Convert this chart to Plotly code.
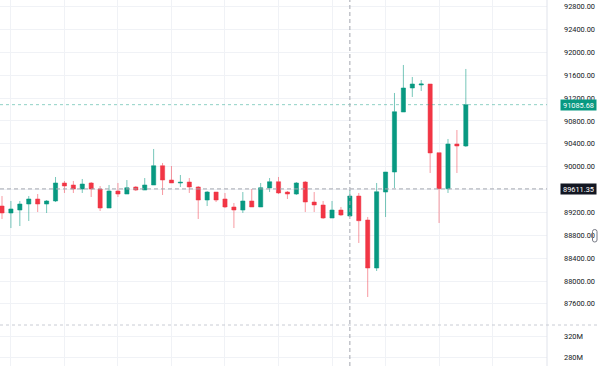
import plotly.graph_objects as go

# ---- data ----
idx = list(range(53))
opens = [89312, 89190, 89242, 89347, 89435, 89347, 89400, 89715, 89680, 89610,
         89715, 89610, 89277, 89575, 89522, 89645, 89592, 89680, 90017, 89767,
         89715, 89732, 89645, 89417, 89557, 89435, 89295, 89242, 89400, 89295,
         89627, 89737, 89557, 89522, 89732, 89382, 89330, 89102, 89242, 89137,
         89487, 89067, 88227, 89557, 89907, 90957, 91377, 91430, 91447, 90245,
         89615, 90397, 90362]
highs = [89487, 89400, 89400, 89487, 89522, 89417, 89820, 89750, 89750, 89785,
         89732, 89662, 89680, 89715, 89767, 89662, 89802, 90310, 90065, 90012,
         89855, 89802, 89662, 89575, 89557, 89540, 89365, 89557, 89610, 89715,
         89802, 89820, 89575, 89732, 89750, 89557, 89400, 89400, 89295, 89592,
         89540, 89120, 89715, 89907, 91290, 91780, 91570, 91517, 91447, 90245,
         90485, 90642, 91710]
lows = [89085, 88927, 88962, 89050, 89207, 89190, 89382, 89540, 89540, 89540,
        89470, 89225, 89277, 89470, 89522, 89575, 89592, 89680, 89505, 89715,
        89645, 89540, 89085, 89312, 89382, 89277, 88927, 89190, 89295, 89295,
        89557, 89522, 89435, 89505, 89207, 89207, 89085, 89102, 89137, 89120,
        88665, 87720, 88175, 89120, 89627, 90957, 91220, 91325, 89890, 89015,
        89540, 89890, 90345]
closes = [89190, 89260, 89347, 89435, 89347, 89400, 89715, 89662, 89610, 89697,
          89610, 89277, 89575, 89522, 89632, 89592, 89680, 90017, 89767, 89715,
          89727, 89645, 89417, 89557, 89417, 89295, 89242, 89400, 89295, 89632,
          89737, 89540, 89522, 89715, 89382, 89330, 89102, 89242, 89155, 89487,
          89055, 88227, 89562, 89907, 90962, 91377, 91447, 91447, 90240, 89615,
          90397, 90362, 91085.68]

price_ticks = [87600, 88000, 88400, 88800, 89200, 89600, 90000, 90400,
               90800, 91200, 91600, 92000, 92400, 92800]
price_labels = ["87600.00", "88000.00", "88400.00", "88800.00", "89200.00", "",
                "90000.00", "90400.00", "90800.00", "91200.00", "91600.00",
                "92000.00", "92400.00", "92800.00"]
vol_ticks = [280e6, 320e6]
vol_labels = ["280M", "320M"]
grid_x = [1, 7, 13, 19, 25, 31, 37, 43, 49, 55]
last_price = 91085.68
cross_price = 89611.35
cross_index = 39

# ---- layout geometry ----
W, H = 600, 366
plot_right = 547 / W
pane_split = 41 / H

GREEN = "#089981"
RED = "#F23645"
GRID = "#f0f2f6"
TXT = "#131722"
FONT = "Roboto"
CROSS = "#a3a6af"

fig = go.Figure()
fig.add_trace(go.Candlestick(
    x=idx, open=opens, high=highs, low=lows, close=closes,
    increasing=dict(line=dict(color="rgba(8,153,129,0.55)", width=1), fillcolor=GREEN),
    decreasing=dict(line=dict(color="rgba(242,54,69,0.5)", width=1), fillcolor=RED),
    whiskerwidth=0, showlegend=False, hoverinfo="skip",
    xaxis="x", yaxis="y",
))
fig.add_trace(go.Scatter(x=[None], y=[None], xaxis="x2", yaxis="y2",
                         showlegend=False, hoverinfo="skip"))

axis_font = dict(family=FONT, size=7.4, color=TXT)
fig.update_layout(
    width=W, height=H,
    margin=dict(l=0, r=0, t=0, b=0),
    paper_bgcolor="white", plot_bgcolor="white",
    boxgap=0.33,
    xaxis=dict(domain=[0, plot_right], range=[-0.224, 61.1], anchor="y",
               tickmode="array", tickvals=grid_x, showticklabels=False,
               showgrid=True, gridcolor=GRID, gridwidth=1, zeroline=False,
               showline=False, ticks="", rangeslider=dict(visible=False),
               fixedrange=True),
    yaxis=dict(domain=[pane_split, 1], range=[87230, 92917], side="right",
               anchor="x", tickmode="array", tickvals=price_ticks,
               ticktext=price_labels, showgrid=True, gridcolor=GRID,
               zeroline=False, showline=False, ticks="",
               ticklabelstandoff=16, tickfont=axis_font),
    xaxis2=dict(domain=[0, plot_right], range=[-0.224, 61.1], anchor="y2",
                tickmode="array", tickvals=grid_x, showticklabels=False,
                showgrid=True, gridcolor=GRID, zeroline=False, showline=False,
                ticks=""),
    yaxis2=dict(domain=[0, pane_split], range=[263.1e6, 342.7e6], side="right",
                anchor="x2", tickmode="array", tickvals=vol_ticks,
                ticktext=vol_labels, showgrid=True, gridcolor=GRID,
                zeroline=False, showline=False, ticks="",
                ticklabelstandoff=16, tickfont=axis_font),
)

shapes = []
# right border of plot area
shapes.append(dict(type="line", xref="paper", yref="paper", x0=plot_right, x1=plot_right,
                   y0=0, y1=1, line=dict(color="#e0e3eb", width=1)))
# pane separator
shapes.append(dict(type="line", xref="paper", yref="paper", x0=0, x1=1,
                   y0=pane_split, y1=pane_split, line=dict(color="#c9ccd4", width=1, dash="dot")))
# last price dotted line
shapes.append(dict(type="line", xref="paper", yref="y", x0=0, x1=plot_right,
                   y0=last_price, y1=last_price,
                   line=dict(color="rgba(8,153,129,0.45)", width=1, dash="dot")))
# crosshair horizontal
shapes.append(dict(type="line", xref="paper", yref="y", x0=0, x1=plot_right,
                   y0=cross_price, y1=cross_price,
                   line=dict(color=CROSS, width=1, dash="4px,3px")))
# crosshair vertical
shapes.append(dict(type="line", xref="x", yref="paper", x0=cross_index, x1=cross_index,
                   y0=0, y1=1, line=dict(color=CROSS, width=1, dash="4px,3px")))
# small scroll handle icon
x0, x1 = 592.5 / W, 597 / W
ya, yb = 1 - 229.5 / H, 1 - 242 / H
r = 2 / H
shapes.append(dict(type="path", xref="paper", yref="paper",
                   path=(f"M {x0},{ya - r} L {x0},{yb + r} Q {x0},{yb} {(x0+x1)/2},{yb} "
                         f"Q {x1},{yb} {x1},{yb + r} L {x1},{ya - r} Q {x1},{ya} {(x0+x1)/2},{ya} "
                         f"Q {x0},{ya} {x0},{ya - r} Z"),
                   line=dict(color="#787b86", width=1)))
fig.update_layout(shapes=shapes)

label_font = dict(family=FONT, size=7.4, color="white")
fig.add_annotation(xref="paper", yref="y", x=560 / W, y=last_price, xanchor="left",
                   yanchor="middle", text="91085.68", showarrow=False, font=label_font,
                   bgcolor=GREEN, width=34, height=9, borderpad=0.5, align="center")
fig.add_annotation(xref="paper", yref="y", x=560 / W, y=cross_price, xanchor="left",
                   yanchor="middle", text="89611.35", showarrow=False, font=label_font,
                   bgcolor=TXT, width=34, height=9, borderpad=0.5, align="center")

fig.write_html(
    "out.html",
    config={"displayModeBar": False},
    post_script="document.body.style.margin='0';document.body.style.padding='0';"
                "document.body.style.overflow='hidden';",
)
